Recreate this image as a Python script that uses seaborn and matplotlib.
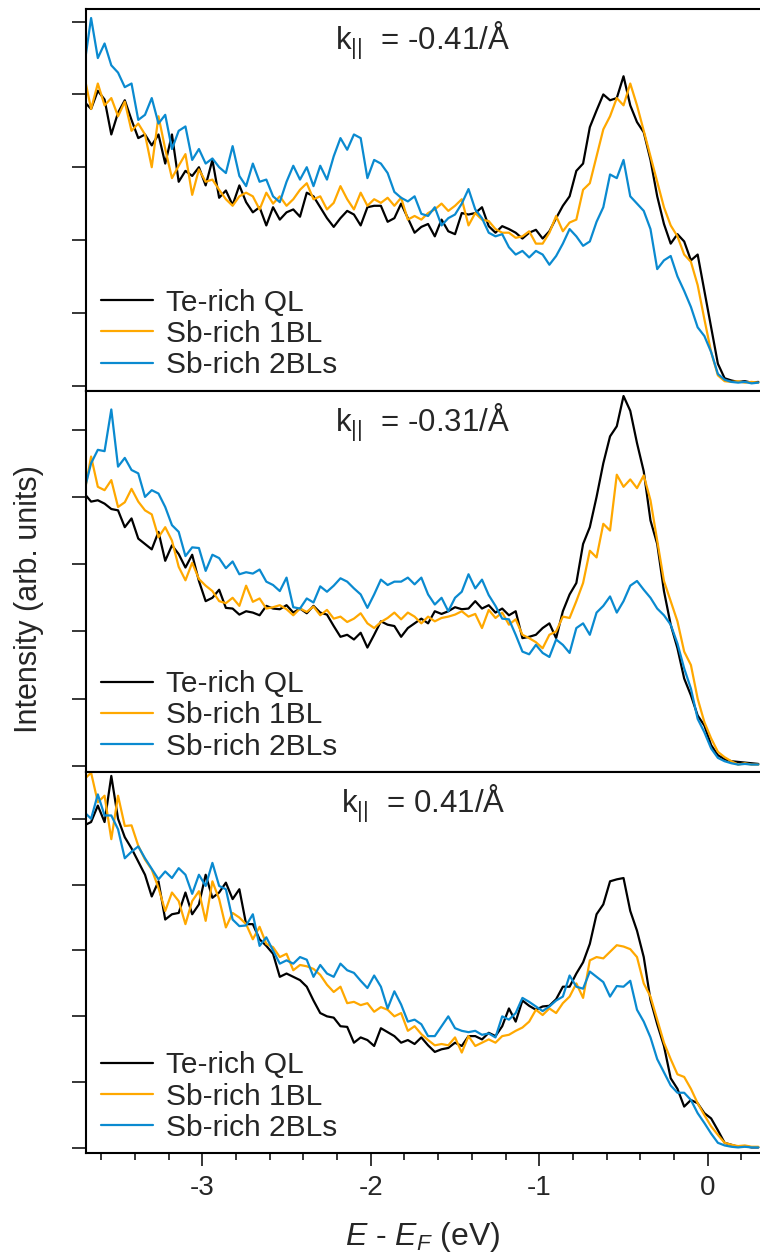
import numpy as np
import pandas as pd
import matplotlib
matplotlib.use("Agg")
import matplotlib.pyplot as plt
from matplotlib.ticker import MultipleLocator
import seaborn as sns

# ---------------------------------------------------------
# Data: EDCs at three k|| values
# (intensity in units of the y-tick spacing)
# ---------------------------------------------------------
energy = np.round(np.linspace(-3.70, 0.30, 101), 2)   # E - E_F (eV)
samples = ["Te-rich QL", "Sb-rich 1BL", "Sb-rich 2BLs"]
k_values = ["-0.41", "-0.31", "0.41"]

# k|| = -0.41/Å
p1_te = [3.90, 3.80, 4.05, 3.93, 3.45, 3.75, 3.92, 3.65, 3.40, 3.45, 3.30, 3.45, 3.05, 3.45, 2.80,
         2.95, 2.88, 3.00, 2.75, 3.10, 2.58, 2.68, 2.48, 2.75, 2.52, 2.38, 2.45, 2.20, 2.45, 2.28,
         2.38, 2.42, 2.32, 2.65, 2.60, 2.45, 2.30, 2.18, 2.30, 2.40, 2.35, 2.20, 2.45, 2.47,
         2.47, 2.25, 2.30, 2.50, 2.30, 2.10, 2.18, 2.22, 2.05, 2.28, 2.12, 2.08, 2.37, 2.35, 2.37,
         2.45, 2.19, 2.10, 2.19, 2.15, 2.10, 2.02, 2.10, 2.14, 2.02, 2.12, 2.30, 2.47, 2.60, 2.95,
         3.05, 3.55, 3.78, 4.00, 3.92, 3.95, 4.25, 3.85, 3.62, 3.48, 3.10, 2.60, 2.22, 1.95, 2.08,
         1.98, 1.72, 1.80, 1.30, 0.80, 0.30, 0.10, 0.07, 0.05, 0.06, 0.04, 0.05]
p1_sb1 = [4.25, 3.80, 4.15, 3.85, 3.95, 3.70, 3.90, 3.50, 3.60, 3.45, 3.00, 3.70, 3.25, 2.85, 3.02,
          3.18, 2.62, 2.97, 2.80, 2.83, 2.69, 2.56, 2.47, 2.60, 2.65, 2.60, 2.42, 2.65, 2.50, 2.60,
          2.47, 2.56, 2.69, 2.78, 2.56, 2.60, 2.42, 2.51, 2.74, 2.56, 2.42, 2.65, 2.47, 2.56,
          2.51, 2.58, 2.47, 2.58, 2.28, 2.33, 2.28, 2.37, 2.42, 2.50, 2.40, 2.47, 2.56, 2.20, 2.37,
          2.28, 2.26, 2.15, 2.10, 2.10, 2.03, 2.05, 2.12, 1.95, 1.95, 2.10, 2.33, 2.12, 2.24, 2.28,
          2.69, 2.78, 3.15, 3.52, 3.70, 3.95, 3.85, 4.15, 3.85, 3.50, 3.15, 2.80, 2.45, 2.20, 2.05,
          1.80, 1.70, 1.38, 0.91, 0.46, 0.14, 0.06, 0.05, 0.06, 0.04, 0.05, 0.04]
p1_sb2 = [4.40, 5.05, 4.50, 4.70, 4.40, 4.30, 4.10, 4.15, 3.65, 3.72, 3.95, 3.60, 3.72, 3.25, 3.50,
          3.56, 3.10, 3.25, 3.05, 3.12, 3.00, 2.92, 3.29, 2.88, 2.74, 3.05, 2.80, 2.83, 2.60, 2.52,
          2.80, 3.02, 2.83, 3.00, 2.74, 3.02, 2.83, 3.15, 3.40, 3.24, 3.45, 3.40, 2.85, 3.10,
          3.05, 2.92, 2.66, 2.58, 2.53, 2.60, 2.36, 2.33, 2.45, 2.20, 2.30, 2.35, 2.50, 2.70, 2.42,
          2.30, 2.10, 2.05, 2.08, 1.90, 1.80, 1.85, 1.76, 1.85, 1.80, 1.66, 1.78, 1.95, 2.15, 2.05,
          1.92, 1.98, 2.25, 2.45, 2.90, 2.85, 3.10, 2.60, 2.50, 2.40, 2.15, 1.60, 1.72, 1.78, 1.50,
          1.30, 1.08, 0.80, 0.68, 0.46, 0.16, 0.08, 0.05, 0.04, 0.05, 0.03, 0.04]

# k|| = -0.31/Å
p2_te = [4.05, 3.93, 3.95, 3.90, 3.82, 3.80, 3.55, 3.68, 3.38, 3.30, 3.22, 3.48, 3.05, 3.28, 3.15,
         2.95, 3.14, 2.75, 2.45, 2.50, 2.62, 2.35, 2.34, 2.25, 2.30, 2.28, 2.24, 2.38, 2.34, 2.33,
         2.39, 2.28, 2.34, 2.27, 2.38, 2.28, 2.25, 2.08, 1.92, 1.95, 1.88, 1.98, 1.76, 1.95, 2.15,
         2.10, 2.08, 1.92, 2.05, 2.12,
         2.19, 2.12, 2.30, 2.26, 2.30, 2.36, 2.33, 2.34, 2.45, 2.34, 2.39, 2.28, 2.34, 2.24, 2.30,
         1.90, 1.92, 1.95, 2.05, 2.12, 1.90, 2.30, 2.55, 2.72, 3.30, 3.55, 4.00, 4.50, 4.90, 5.05,
         5.50, 5.28, 4.80, 4.38, 3.65, 3.30, 2.60, 2.10, 1.75, 1.30, 1.05, 0.75, 0.60, 0.31, 0.16,
         0.10, 0.07, 0.06, 0.05, 0.04, 0.03]
p2_sb1 = [4.05, 4.60, 4.15, 4.10, 4.25, 3.85, 3.92, 4.12, 3.93, 3.80, 3.74, 3.40, 3.55, 3.35, 2.96,
          2.76, 3.02, 2.78, 2.68, 2.60, 2.45, 2.42, 2.50, 2.38, 2.68, 2.44, 2.49, 2.34, 2.36, 2.39,
          2.33, 2.24, 2.34, 2.29, 2.37, 2.24, 2.32, 2.19, 2.22, 2.14, 2.19, 2.27, 2.12, 2.05, 2.14,
          2.20, 2.28, 2.18, 2.28, 2.22,
          2.12, 2.22, 2.15, 2.20, 2.22, 2.25, 2.30, 2.22, 2.26, 2.05, 2.32, 2.20, 2.28, 2.10, 2.18,
          1.95, 1.90, 1.84, 1.75, 1.95, 2.00, 2.22, 2.20, 2.45, 2.72, 3.20, 3.10, 3.60, 3.50, 4.33,
          4.15, 4.26, 4.13, 4.32, 3.95, 3.35, 2.75, 2.45, 2.15, 1.70, 1.50, 1.00, 0.65, 0.41, 0.21,
          0.13, 0.07, 0.02, 0.04, 0.02, 0.02]
p2_sb2 = [4.10, 4.50, 4.70, 4.68, 5.30, 4.45, 4.58, 4.40, 4.35, 4.00, 4.10, 4.05, 3.85, 3.58, 3.48,
          3.12, 3.25, 3.24, 2.90, 3.14, 3.09, 2.94, 3.04, 2.85, 2.88, 2.86, 2.92, 2.74, 2.69, 2.60,
          2.80, 2.36, 2.34, 2.49, 2.43, 2.67, 2.59, 2.68, 2.79, 2.74, 2.64, 2.55, 2.35, 2.55, 2.77,
          2.69, 2.74, 2.74, 2.80, 2.70,
          2.80, 2.55, 2.40, 2.50, 2.30, 2.50, 2.59, 2.85, 2.64, 2.77, 2.54, 2.38, 2.19, 2.18, 1.95,
          1.70, 1.66, 1.80, 1.68, 1.62, 1.88, 1.80, 1.68, 2.05, 2.12, 1.95, 2.28, 2.38, 2.52, 2.28,
          2.45, 2.68, 2.75, 2.62, 2.50, 2.34, 2.24, 2.10, 1.82, 1.45, 1.15, 0.70, 0.50, 0.26, 0.12,
          0.07, 0.04, 0.02, 0.03, 0.02, 0.02]

# k|| = 0.41/Å
p3_te = [4.90, 4.95, 5.20, 4.95, 5.65, 5.00, 4.72, 4.55, 4.35, 4.15, 3.82, 4.05, 3.47, 3.55, 3.57,
         3.88, 3.55, 3.70, 4.15, 3.80, 3.88, 4.03, 3.78, 3.93, 3.40, 3.40, 3.17, 3.07, 2.95, 2.60,
         2.65, 2.60, 2.55, 2.45, 2.24, 2.05, 2.00, 1.98, 1.85, 1.84, 1.60, 1.68, 1.64, 1.55, 1.82,
         1.76, 1.70, 1.60, 1.64, 1.58,
         1.68, 1.56, 1.46, 1.50, 1.52, 1.60, 1.55, 1.70, 1.70, 1.65, 1.75, 1.70, 1.85, 2.12, 1.92,
         2.24, 2.16, 2.10, 2.15, 2.16, 2.26, 2.45, 2.45, 2.65, 2.82, 3.10, 3.55, 3.70, 4.05, 4.08,
         4.10, 3.60, 3.30, 2.90, 2.25, 1.88, 1.55, 1.06, 0.90, 0.63, 0.73, 0.68, 0.53, 0.45, 0.27,
         0.08, 0.05, 0.02, 0.03, 0.01, 0.01]
p3_sb1 = [5.60, 5.70, 5.25, 5.35, 4.69, 5.35, 4.89, 4.90, 4.59, 4.38, 4.23, 3.95, 3.60, 3.88, 3.75,
          3.40, 3.75, 3.90, 3.45, 4.05, 3.78, 3.35, 3.57, 3.50, 3.40, 3.17, 3.36, 3.10, 3.05, 2.90,
          2.95, 2.70, 2.78, 2.76, 2.72, 2.63, 2.48, 2.37, 2.45, 2.20, 2.22, 2.17, 2.20, 2.07, 2.14,
          2.10, 2.00, 2.05, 1.78, 1.85,
          1.73, 1.64, 1.56, 1.58, 1.56, 1.68, 1.45, 1.70, 1.55, 1.60, 1.65, 1.60, 1.70, 1.72, 1.78,
          1.83, 1.92, 2.10, 2.02, 2.12, 2.05, 2.20, 2.30, 2.50, 2.28, 2.85, 2.90, 2.88, 2.98, 3.08,
          3.06, 3.02, 2.90, 2.50, 2.30, 1.95, 1.60, 1.35, 1.12, 1.08, 0.90, 0.68, 0.50, 0.33, 0.20,
          0.08, 0.05, 0.03, 0.04, 0.02, 0.02]
p3_sb2 = [5.10, 5.00, 5.37, 5.05, 5.05, 4.84, 4.40, 4.50, 4.58, 4.40, 4.24, 4.08, 4.20, 4.10, 4.25,
          4.15, 3.86, 4.15, 3.98, 4.33, 3.98, 3.93, 3.47, 3.37, 3.38, 3.55, 3.07, 3.20, 3.00, 2.80,
          2.85, 2.80, 2.90, 2.86, 2.60, 2.78, 2.65, 2.60, 2.80, 2.70, 2.66, 2.54, 2.43, 2.62, 2.45,
          2.12, 2.38, 2.18, 1.92, 1.95,
          1.88, 1.70, 1.70, 1.85, 2.00, 1.82, 1.78, 1.76, 1.78, 1.72, 1.74, 1.68, 2.00, 1.95, 2.05,
          2.28, 2.22, 2.15, 2.08, 2.15, 2.24, 2.30, 2.62, 2.45, 2.42, 2.68, 2.60, 2.52, 2.30, 2.46,
          2.45, 2.54, 2.10, 1.92, 1.68, 1.35, 1.15, 0.95, 0.84, 0.84, 0.73, 0.53, 0.38, 0.22, 0.08,
          0.04, 0.02, 0.01, 0.02, 0.01, 0.01]

panel_series = [
    [p1_te, p1_sb1, p1_sb2],
    [p2_te, p2_sb1, p2_sb2],
    [p3_te, p3_sb1, p3_sb2],
]

# ---------------------------------------------------------
# Style
# ---------------------------------------------------------
sns.set_style("ticks")
plt.rcParams["font.family"] = ["Liberation Sans", "DejaVu Sans"]
plt.rcParams["mathtext.fontset"] = "custom"
plt.rcParams["mathtext.rm"] = "Liberation Sans"
plt.rcParams["mathtext.it"] = "Liberation Sans:italic"
plt.rcParams["mathtext.bf"] = "Liberation Sans:bold"
plt.rcParams["axes.unicode_minus"] = False

palette = ["#000000", "#FFA800", "#0A8AD0"]
ylims = [(-0.07, 5.17), (-0.09, 5.58), (-0.08, 5.71)]

fig, axes = plt.subplots(3, 1, figsize=(7.6, 12.55), dpi=100, sharex=True)
fig.subplots_adjust(left=0.1132, right=1.0, top=0.9926, bottom=0.081, hspace=0)

for n, ax in enumerate(axes):
    df = pd.DataFrame({
        "E": np.tile(energy, 3),
        "I": np.concatenate(panel_series[n]),
        "sample": np.repeat(samples, len(energy)),
    })
    sns.lineplot(data=df, x="E", y="I", hue="sample", hue_order=samples,
                 palette=palette, estimator=None, lw=1.6, ax=ax, legend=False)

    ax.set_xlim(-3.69, 0.31)
    ax.set_ylim(*ylims[n])
    ax.set_yticks(range(6))
    ax.set_yticklabels([])
    ax.set_ylabel("")
    ax.set_xlabel("")

    for side in ["top", "bottom", "left"]:
        ax.spines[side].set_linewidth(1.5)
        ax.spines[side].set_color("black")
    ax.spines["right"].set_visible(False)

    ax.tick_params(axis="y", direction="out", length=10, width=1.1, color="black")
    ax.tick_params(axis="x", which="both", bottom=False)

    ax.text(0.5, 1 - 41 / 381, r"$\mathrm{k}_{||}$  = " + k_values[n] + "/Å",
            ha="center", va="baseline", fontsize=22.5, transform=ax.transAxes)

    ax.legend(ax.lines[:3], samples, loc="lower left", bbox_to_anchor=(0.022, 0.03),
              frameon=False, fontsize=21.5, handlelength=1.75, handletextpad=0.42,
              labelspacing=0.11, borderpad=0, borderaxespad=0)

# x axis only on the bottom panel
ax = axes[-1]
ax.xaxis.set_major_locator(MultipleLocator(1))
ax.xaxis.set_minor_locator(MultipleLocator(0.2))
ax.tick_params(axis="x", which="major", bottom=True, direction="out", length=9.5,
               width=1.1, labelsize=20, pad=6, color="black")
ax.tick_params(axis="x", which="minor", bottom=True, direction="out", length=5,
               width=1.1, color="black")
ax.set_xlabel(r"$E$ - $E_F$ (eV)", fontsize=23, labelpad=14)

fig.text(29 / 760, 1 - 599 / 1255, "Intensity (arb. units)", rotation=90,
         ha="center", va="center", fontsize=22)

fig.savefig("out.png", dpi=100)
